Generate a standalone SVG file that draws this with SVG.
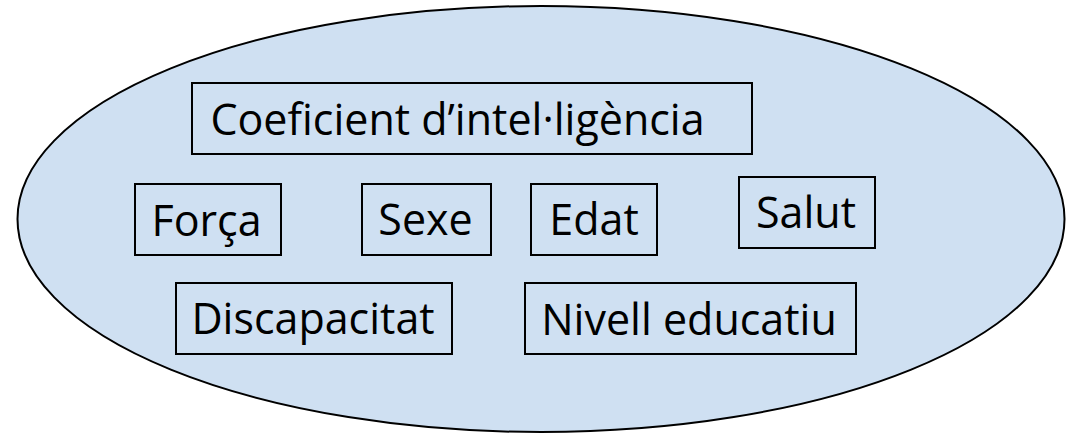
<svg xmlns="http://www.w3.org/2000/svg" width="1072" height="434" viewBox="0 0 1072 434">
<style>
.box{fill:none;stroke:#000;stroke-width:2}
.t{font-family:"Open Sans","Noto Sans","DejaVu Sans",sans-serif;font-size:43px;fill:#000;text-anchor:middle}
</style>
<rect width="1072" height="434" fill="#fff"/>
<ellipse id="set" cx="541" cy="219" rx="523.5" ry="213" fill="#cfe0f2" stroke="#000" stroke-width="2"/>
<g id="connectors"></g>
<g id="n-coeficient"><rect class="box" x="192" y="83" width="560" height="71"/><text class="t" x="457.5" y="135">Coeficient d’intel·ligència</text></g>
<g id="n-forca"><rect class="box" x="135" y="184" width="146" height="71"/><text class="t" x="206.5" y="235.5">Força</text></g>
<g id="n-sexe"><rect class="box" x="362" y="184" width="129" height="71"/><text class="t" x="425.5" y="234.5">Sexe</text></g>
<g id="n-edat"><rect class="box" x="531" y="184" width="126" height="71"/><text class="t" x="594" y="235">Edat</text></g>
<g id="n-salut"><rect class="box" x="739" y="177" width="136" height="71"/><text class="t" x="806" y="227.5">Salut</text></g>
<g id="n-discapacitat"><rect class="box" x="176" y="283" width="276" height="71"/><text class="t" x="313" y="333.5">Discapacitat</text></g>
<g id="n-nivell"><rect class="box" x="525" y="283" width="331" height="71"/><text class="t" x="689" y="334.5">Nivell educatiu</text></g>
</svg>
